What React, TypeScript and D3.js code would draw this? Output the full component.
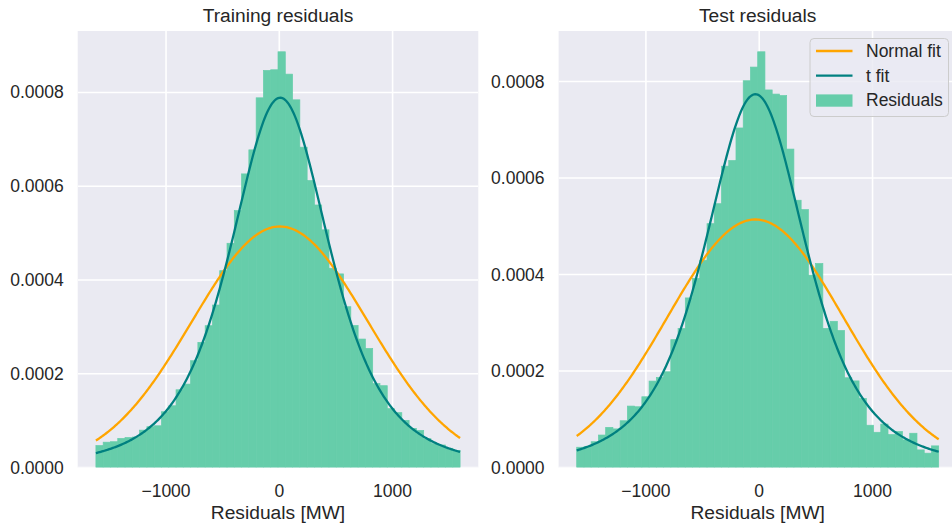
import React from 'react';
import * as d3 from 'd3';

// Histogram densities (50 equal-width bins between the residual min and max)
const binCount = 50;
const trainRange: [number, number] = [-1619, 1596];
const testRange: [number, number] = [-1611, 1584];

const trainDensity = [
  0.0000468, 0.000054, 0.000055, 0.000062, 0.000064, 0.000065, 0.0000797, 0.000087, 0.000089, 0.0001189,
  0.0001317, 0.0001658, 0.0001779, 0.0002278, 0.0002669, 0.0003025, 0.0003466, 0.0004199, 0.0004783, 0.000548,
  0.0006263, 0.0006776, 0.0007886, 0.000847, 0.0008484, 0.0008868, 0.0008391, 0.0007843, 0.0006833, 0.0006121,
  0.00056, 0.000507, 0.000425, 0.000413, 0.000343, 0.000303, 0.000274, 0.000254, 0.000179, 0.0001745,
  0.0001255, 0.000117, 0.0001005, 0.0000835, 0.000079, 0.0000615, 0.000051, 0.000048, 0.000041, 0.000036,
];

const testDensity = [
  0.000042, 0.000043, 0.0000534, 0.0000673, 0.0000832, 0.00008, 0.0000969, 0.0001273, 0.0001259, 0.0001466,
  0.0001791, 0.0001867, 0.0001984, 0.000265, 0.000288, 0.0003515, 0.0003917, 0.0004296, 0.0005054, 0.0005468,
  0.0006246, 0.0006363, 0.0007038, 0.0008017, 0.00083, 0.0008617, 0.0007826, 0.000774, 0.000771, 0.00066,
  0.000554, 0.0005345, 0.0003987, 0.0004228, 0.0002883, 0.000303, 0.000284, 0.000186, 0.0001795, 0.000143,
  0.0000876, 0.000073, 0.00009, 0.0000683, 0.0000745, 0.0000572, 0.000071, 0.0000365, 0.0000297, 0.0000448,
];

// Fitted distribution parameters
const trainNormal = { mu: 5, sigma: 776 };
const trainT = { df: 3, loc: 8, scale: 466 };
const testNormal = { mu: -34, sigma: 776 };
const testT = { df: 3, loc: -34, scale: 475 };

const xTicks = [-1000, 0, 1000];
const yTicks = [0, 0.0002, 0.0004, 0.0006, 0.0008];

const legendItems = [
  { label: 'Normal fit', kind: 'line', color: '#FFA500' },
  { label: 't fit', kind: 'line', color: '#008080' },
  { label: 'Residuals', kind: 'patch', color: '#66CDAA' },
];

const WIDTH = 952;
const HEIGHT = 528;
const PLOT_TOP = 31;
const PLOT_BOTTOM = 467.5;
const FONT = "Arial, 'Liberation Sans', sans-serif";
const TEXT = '#262626';
const BG = '#EAEAF2';
const BAR = '#66CDAA';
const NORMAL = '#FFA500';
const TEAL = '#008080';
const LINE_W = 2.3;

// Lanczos approximation of log-gamma
function lgamma(z: number): number {
  const g = 7;
  const c = [
    0.99999999999980993, 676.5203681218851, -1259.1392167224028, 771.32342877765313,
    -176.61502916214059, 12.507343278686905, -0.13857109526572012, 9.9843695780195716e-6,
    1.5056327351493116e-7,
  ];
  if (z < 0.5) return Math.log(Math.PI / Math.sin(Math.PI * z)) - lgamma(1 - z);
  z -= 1;
  let x = c[0];
  for (let i = 1; i < g + 2; i++) x += c[i] / (z + i);
  const t = z + g + 0.5;
  return 0.5 * Math.log(2 * Math.PI) + (z + 0.5) * Math.log(t) - t + Math.log(x);
}

function normalPdf(x: number, p: { mu: number; sigma: number }) {
  const z = (x - p.mu) / p.sigma;
  return Math.exp(-0.5 * z * z) / (p.sigma * Math.sqrt(2 * Math.PI));
}

function tPdf(x: number, p: { df: number; loc: number; scale: number }) {
  const v = p.df;
  const z = (x - p.loc) / p.scale;
  const logC = lgamma((v + 1) / 2) - lgamma(v / 2) - 0.5 * Math.log(v * Math.PI) - Math.log(p.scale);
  return Math.exp(logC - ((v + 1) / 2) * Math.log(1 + (z * z) / v));
}

type PanelProps = {
  title: string;
  left: number;
  right: number;
  range: [number, number];
  density: number[];
  normal: { mu: number; sigma: number };
  t: { df: number; loc: number; scale: number };
  showLegend: boolean;
};

function Panel({ title, left, right, range, density, normal, t, showLegend }: PanelProps) {
  const [lo, hi] = range;
  const span = hi - lo;
  const x = d3.scaleLinear().domain([lo - 0.05 * span, hi + 0.05 * span]).range([left, right]);

  const step = span / binCount;
  const samples = d3.range(0, 301).map((i) => lo + (span * i) / 300);
  const normalPts = samples.map((v) => [v, normalPdf(v, normal)] as [number, number]);
  const tPts = samples.map((v) => [v, tPdf(v, t)] as [number, number]);

  const yMax = 1.05 * Math.max(d3.max(density)!, d3.max(tPts, (d) => d[1])!, d3.max(normalPts, (d) => d[1])!);
  const y = d3.scaleLinear().domain([0, yMax]).range([PLOT_BOTTOM, PLOT_TOP]);

  const line = d3
    .line<[number, number]>()
    .x((d) => x(d[0]))
    .y((d) => y(d[1]));

  const clipId = `clip-${title.replace(/\s+/g, '-')}`;
  const cx = (left + right) / 2;
  const fmt = d3.format('.4f');

  return (
    <g>
      <defs>
        <clipPath id={clipId}>
          <rect x={left} y={PLOT_TOP} width={right - left} height={PLOT_BOTTOM - PLOT_TOP} />
        </clipPath>
      </defs>
      <rect x={left} y={PLOT_TOP} width={right - left} height={PLOT_BOTTOM - PLOT_TOP} fill={BG} />
      <g clipPath={`url(#${clipId})`}>
        {yTicks.map((v) => (
          <line key={`gy${v}`} x1={left} x2={right} y1={y(v)} y2={y(v)} stroke="#fff" strokeWidth={1.6} />
        ))}
        {xTicks.map((v) => (
          <line key={`gx${v}`} x1={x(v)} x2={x(v)} y1={PLOT_TOP} y2={PLOT_BOTTOM} stroke="#fff" strokeWidth={1.6} />
        ))}
        {density.map((d, i) => {
          const x0 = x(lo + i * step);
          const x1 = x(lo + (i + 1) * step);
          return (
            <rect
              key={`b${i}`}
              x={x0}
              y={y(d)}
              width={x1 - x0}
              height={y(0) - y(d)}
              fill={BAR}
              stroke={BAR}
              strokeWidth={0.7}
            />
          );
        })}
        <path d={line(normalPts)!} fill="none" stroke={NORMAL} strokeWidth={LINE_W} />
        <path d={line(tPts)!} fill="none" stroke={TEAL} strokeWidth={LINE_W} />
      </g>

      {yTicks.map((v) => (
        <text
          key={`ty${v}`}
          x={left - 14}
          y={y(v)}
          textAnchor="end"
          dominantBaseline="central"
          fontSize={17.5}
          fontFamily={FONT}
          fill={TEXT}
        >
          {fmt(v)}
        </text>
      ))}
      {xTicks.map((v) => (
        <text
          key={`tx${v}`}
          x={x(v)}
          y={496.5}
          textAnchor="middle"
          fontSize={17.5}
          fontFamily={FONT}
          fill={TEXT}
        >
          {v < 0 ? `\u2212${Math.abs(v)}` : `${v}`}
        </text>
      ))}
      <text x={cx} y={519} textAnchor="middle" fontSize={19.2} fontFamily={FONT} fill={TEXT}>
        Residuals [MW]
      </text>
      <text x={cx} y={22} textAnchor="middle" fontSize={19.2} fontFamily={FONT} fill={TEXT}>
        {title}
      </text>

      {showLegend && (
        <g>
          <rect
            x={810}
            y={38.5}
            width={138.5}
            height={78}
            rx={4}
            fill="rgba(234,234,242,0.8)"
            stroke="#cccccc"
            strokeWidth={1}
          />
          {legendItems.map((it, i) => {
            const cy = 51 + i * 24.7;
            return (
              <g key={it.label}>
                {it.kind === 'line' ? (
                  <line x1={816} x2={852.5} y1={cy} y2={cy} stroke={it.color} strokeWidth={LINE_W} />
                ) : (
                  <rect x={816} y={cy - 6} width={36.5} height={12.3} fill={it.color} />
                )}
                <text
                  x={866}
                  y={cy}
                  dominantBaseline="central"
                  fontSize={17.5}
                  fontFamily={FONT}
                  fill={TEXT}
                >
                  {it.label}
                </text>
              </g>
            );
          })}
        </g>
      )}
    </g>
  );
}

export default function App() {
  return (
    <svg
      width={WIDTH}
      height={HEIGHT}
      viewBox={`0 0 ${WIDTH} ${HEIGHT}`}
      style={{ position: 'absolute', left: 0, top: 0, background: '#fff' }}
    >
      <rect width={WIDTH} height={HEIGHT} fill="#fff" />
      <Panel
        title="Training residuals"
        left={77.7}
        right={478.3}
        range={trainRange}
        density={trainDensity}
        normal={trainNormal}
        t={trainT}
        showLegend={false}
      />
      <Panel
        title="Test residuals"
        left={558.6}
        right={956.8}
        range={testRange}
        density={testDensity}
        normal={testNormal}
        t={testT}
        showLegend={true}
      />
    </svg>
  );
}
